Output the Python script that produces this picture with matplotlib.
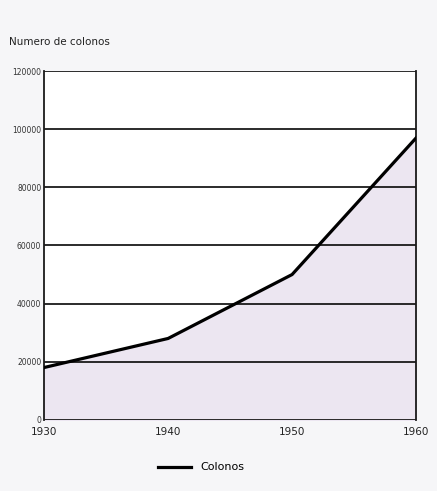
import matplotlib
matplotlib.use("Agg")
import matplotlib.pyplot as plt
from matplotlib.lines import Line2D

years = [1930, 1940, 1950, 1960]
colonos = [18000, 28000, 50000, 97000]
yticks = [0, 20000, 40000, 60000, 80000, 100000, 120000]
xticks = [1930, 1940, 1950, 1960]

fig = plt.figure(figsize=(4.37, 4.91), dpi=100, facecolor="#f6f6f8")
ax = fig.add_axes([0.101, 0.145, 0.851, 0.71])
ax.set_facecolor("white")

ax.fill_between(years, colonos, 0, color="#ece6f1", zorder=1)
for y in yticks:
    ax.axhline(y, color="#1a1a1a", lw=1.3, zorder=2)
ax.plot(years, colonos, color="black", lw=2.3, zorder=3)

ax.set_xlim(1930, 1960)
ax.set_ylim(0, 120000)
ax.set_yticks(yticks)
ax.set_yticklabels([str(v) for v in yticks], fontsize=5.5, color="#333333")
ax.set_xticks(xticks)
ax.set_xticklabels([str(v) for v in xticks], fontsize=7.5, color="#222222")
ax.tick_params(axis="both", length=0, pad=2)
ax.tick_params(axis="x", pad=5)
for s in ["left", "right"]:
    ax.spines[s].set_linewidth(1.3)
    ax.spines[s].set_color("#1a1a1a")
for s in ["top", "bottom"]:
    ax.spines[s].set_visible(False)

fig.text(0.02, 0.915, "Numero de colonos", fontsize=7.5, color="#222222", ha="left", va="center")

handle = Line2D([0], [0], color="black", lw=2.3)
fig.legend([handle], ["Colonos"], loc="center", bbox_to_anchor=(0.46, 0.048),
           frameon=False, fontsize=8, handlelength=3)

fig.savefig("out.png", dpi=100, facecolor=fig.get_facecolor())
